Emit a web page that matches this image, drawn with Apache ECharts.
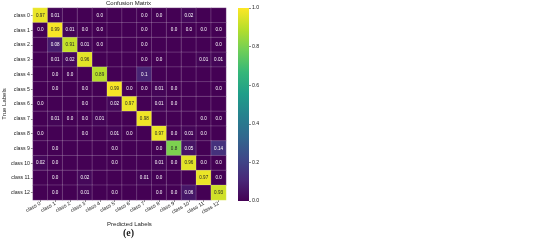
<!DOCTYPE html>
<html lang="en">
<head>
    <meta charset="UTF-8">
    <title>Confusion Matrix</title>
    <script src="https://cdn.jsdelivr.net/npm/echarts@6/dist/echarts.min.js"></script>
    <style>
        html, body { margin: 0; padding: 0; background: #fff; }
    </style>
</head>
<body>
<div id="cm" style="width: 550px;height: 244px;"></div>
<script type="text/javascript">
    // 类别
    var classNames = ['class 0', 'class 1', 'class 2', 'class 3', 'class 4', 'class 5', 'class 6',
        'class 7', 'class 8', 'class 9', 'class 10', 'class 11', 'class 12']
    // 每一行 = 真实类别, 每一列 = 预测类别; null 表示图中没有标注的格子
    var row0  = [0.97, 0.01, null, null, 0.0, null, null, 0.0, 0.0, null, 0.02, null, null]
    var row1  = [0.0, 0.99, 0.01, 0.0, 0.0, null, null, 0.0, null, 0.0, 0.0, 0.0, 0.0]
    var row2  = [null, 0.08, 0.91, 0.01, 0.0, null, null, 0.0, null, null, null, null, 0.0]
    var row3  = [null, 0.01, 0.02, 0.96, null, null, null, 0.0, 0.0, null, null, 0.01, 0.01]
    var row4  = [null, 0.0, 0.0, null, 0.89, null, null, 0.1, null, null, null, null, null]
    var row5  = [null, 0.0, null, 0.0, null, 0.99, 0.0, 0.0, 0.01, 0.0, null, null, 0.0]
    var row6  = [0.0, null, null, 0.0, null, 0.02, 0.97, null, 0.01, 0.0, null, null, null]
    var row7  = [null, 0.01, 0.0, 0.0, 0.01, null, null, 0.98, null, null, null, 0.0, 0.0]
    var row8  = [0.0, null, null, 0.0, null, 0.01, 0.0, null, 0.97, 0.0, 0.01, 0.0, null]
    var row9  = [null, 0.0, null, null, null, 0.0, null, null, 0.0, 0.8, 0.05, null, 0.14]
    var row10 = [0.02, 0.0, null, null, null, 0.0, null, null, 0.01, 0.0, 0.96, 0.0, 0.0]
    var row11 = [null, 0.0, null, 0.02, null, null, null, 0.01, 0.0, null, null, 0.97, 0.0]
    var row12 = [null, 0.0, null, 0.01, null, 0.0, null, null, 0.0, 0.0, 0.06, null, 0.93]
    var matrixRows = [row0, row1, row2, row3, row4, row5, row6, row7, row8, row9, row10, row11, row12]
    // 颜色条刻度
    var colorbarTicks = [0.0, 0.2, 0.4, 0.6, 0.8, 1.0]

    var viridis = ['#440154', '#482878', '#3e4989', '#31688e', '#26828e',
        '#1f9e89', '#35b779', '#6ece58', '#b5de2b', '#fde725']

    // 数字格式: 0 -> "0.0", 0.1 -> "0.1", 0.97 -> "0.97"
    function fmt(v) {
        let s = String(v)
        if (s.indexOf('.') < 0) s = v.toFixed(1)
        return s
    }

    // 组合成 heatmap 数据
    var heatData = []
    for (let i = 0; i < matrixRows.length; i++) {
        for (let j = 0; j < matrixRows[i].length; j++) {
            let v = matrixRows[i][j]
            heatData.push({
                value: [j, i, v === null ? 0 : v],
                label: {
                    show: v !== null,
                    color: (v !== null && v > 0.6) ? '#262626' : '#ffffff'
                }
            })
        }
    }

    // 颜色条渐变 (上黄下紫)
    var barStops = []
    for (let k = 0; k < viridis.length; k++) {
        barStops.push({offset: 1 - k / (viridis.length - 1), color: viridis[k]})
    }

    var chart = echarts.init(document.getElementById('cm'))
    var font = 'Liberation Sans, Arial, sans-serif'
    var option = {
        animation: false,
        textStyle: {fontFamily: font},
        title: [
            {
                text: 'Confusion Matrix',
                left: 128.5, top: 0, padding: 0, textAlign: 'center',
                textStyle: {fontSize: 6, fontWeight: 'normal', color: '#222', fontFamily: font}
            },
            {
                text: '(e)',
                left: 128.5, top: 228, padding: 0, textAlign: 'center',
                textStyle: {fontSize: 10, fontWeight: 'bold', color: '#222', fontFamily: 'Liberation Serif, DejaVu Serif, serif'}
            }
        ],
        visualMap: {
            show: false,
            min: 0,
            max: 1,
            seriesIndex: 0,
            dimension: 2,
            inRange: {color: viridis}
        },
        grid: [
            {left: 31, top: 8, width: 195, height: 192},
            {left: 238, top: 8, width: 11, height: 193}
        ],
        xAxis: [
            {
                type: 'category',
                gridIndex: 0,
                data: classNames,
                name: 'Predicted Labels',
                nameLocation: 'middle',
                nameGap: 18,
                nameTextStyle: {fontSize: 6, color: '#222'},
                axisLine: {show: false},
                axisTick: {show: true, alignWithLabel: true, length: 2, lineStyle: {color: '#444', width: 0.6}},
                axisLabel: {rotate: 30, fontSize: 5.2, color: '#222', margin: 3, interval: 0},
                splitLine: {show: false}
            },
            {
                type: 'category',
                gridIndex: 1,
                data: [''],
                show: false
            }
        ],
        yAxis: [
            {
                type: 'category',
                gridIndex: 0,
                data: classNames,
                inverse: true,
                name: 'True Labels',
                nameLocation: 'middle',
                nameGap: 23,
                nameTextStyle: {fontSize: 6, color: '#222'},
                axisLine: {show: false},
                axisTick: {show: true, alignWithLabel: true, length: 2, lineStyle: {color: '#444', width: 0.6}},
                axisLabel: {fontSize: 5.2, color: '#222', margin: 3, interval: 0},
                splitLine: {show: false}
            },
            {
                type: 'value',
                gridIndex: 1,
                position: 'right',
                min: colorbarTicks[0],
                max: colorbarTicks[colorbarTicks.length - 1],
                interval: 0.2,
                axisLine: {show: false},
                axisTick: {show: true, length: 2, lineStyle: {color: '#444', width: 0.6}},
                axisLabel: {
                    fontSize: 5.2, color: '#222', margin: 3,
                    formatter: function (v) { return v.toFixed(1) }
                },
                splitLine: {show: false}
            }
        ],
        series: [
            {
                type: 'heatmap',
                xAxisIndex: 0,
                yAxisIndex: 0,
                data: heatData,
                label: {
                    fontSize: 4.6,
                    fontFamily: font,
                    formatter: function (p) { return fmt(p.value[2]) }
                },
                itemStyle: {borderColor: 'rgba(255,255,255,0.3)', borderWidth: 0.6},
                emphasis: {disabled: true}
            },
            {
                type: 'bar',
                xAxisIndex: 1,
                yAxisIndex: 1,
                barWidth: '100%',
                data: [colorbarTicks[colorbarTicks.length - 1]],
                itemStyle: {color: new echarts.graphic.LinearGradient(0, 0, 0, 1, barStops)},
                silent: true
            }
        ]
    }
    chart.setOption(option)
</script>
</body>
</html>
